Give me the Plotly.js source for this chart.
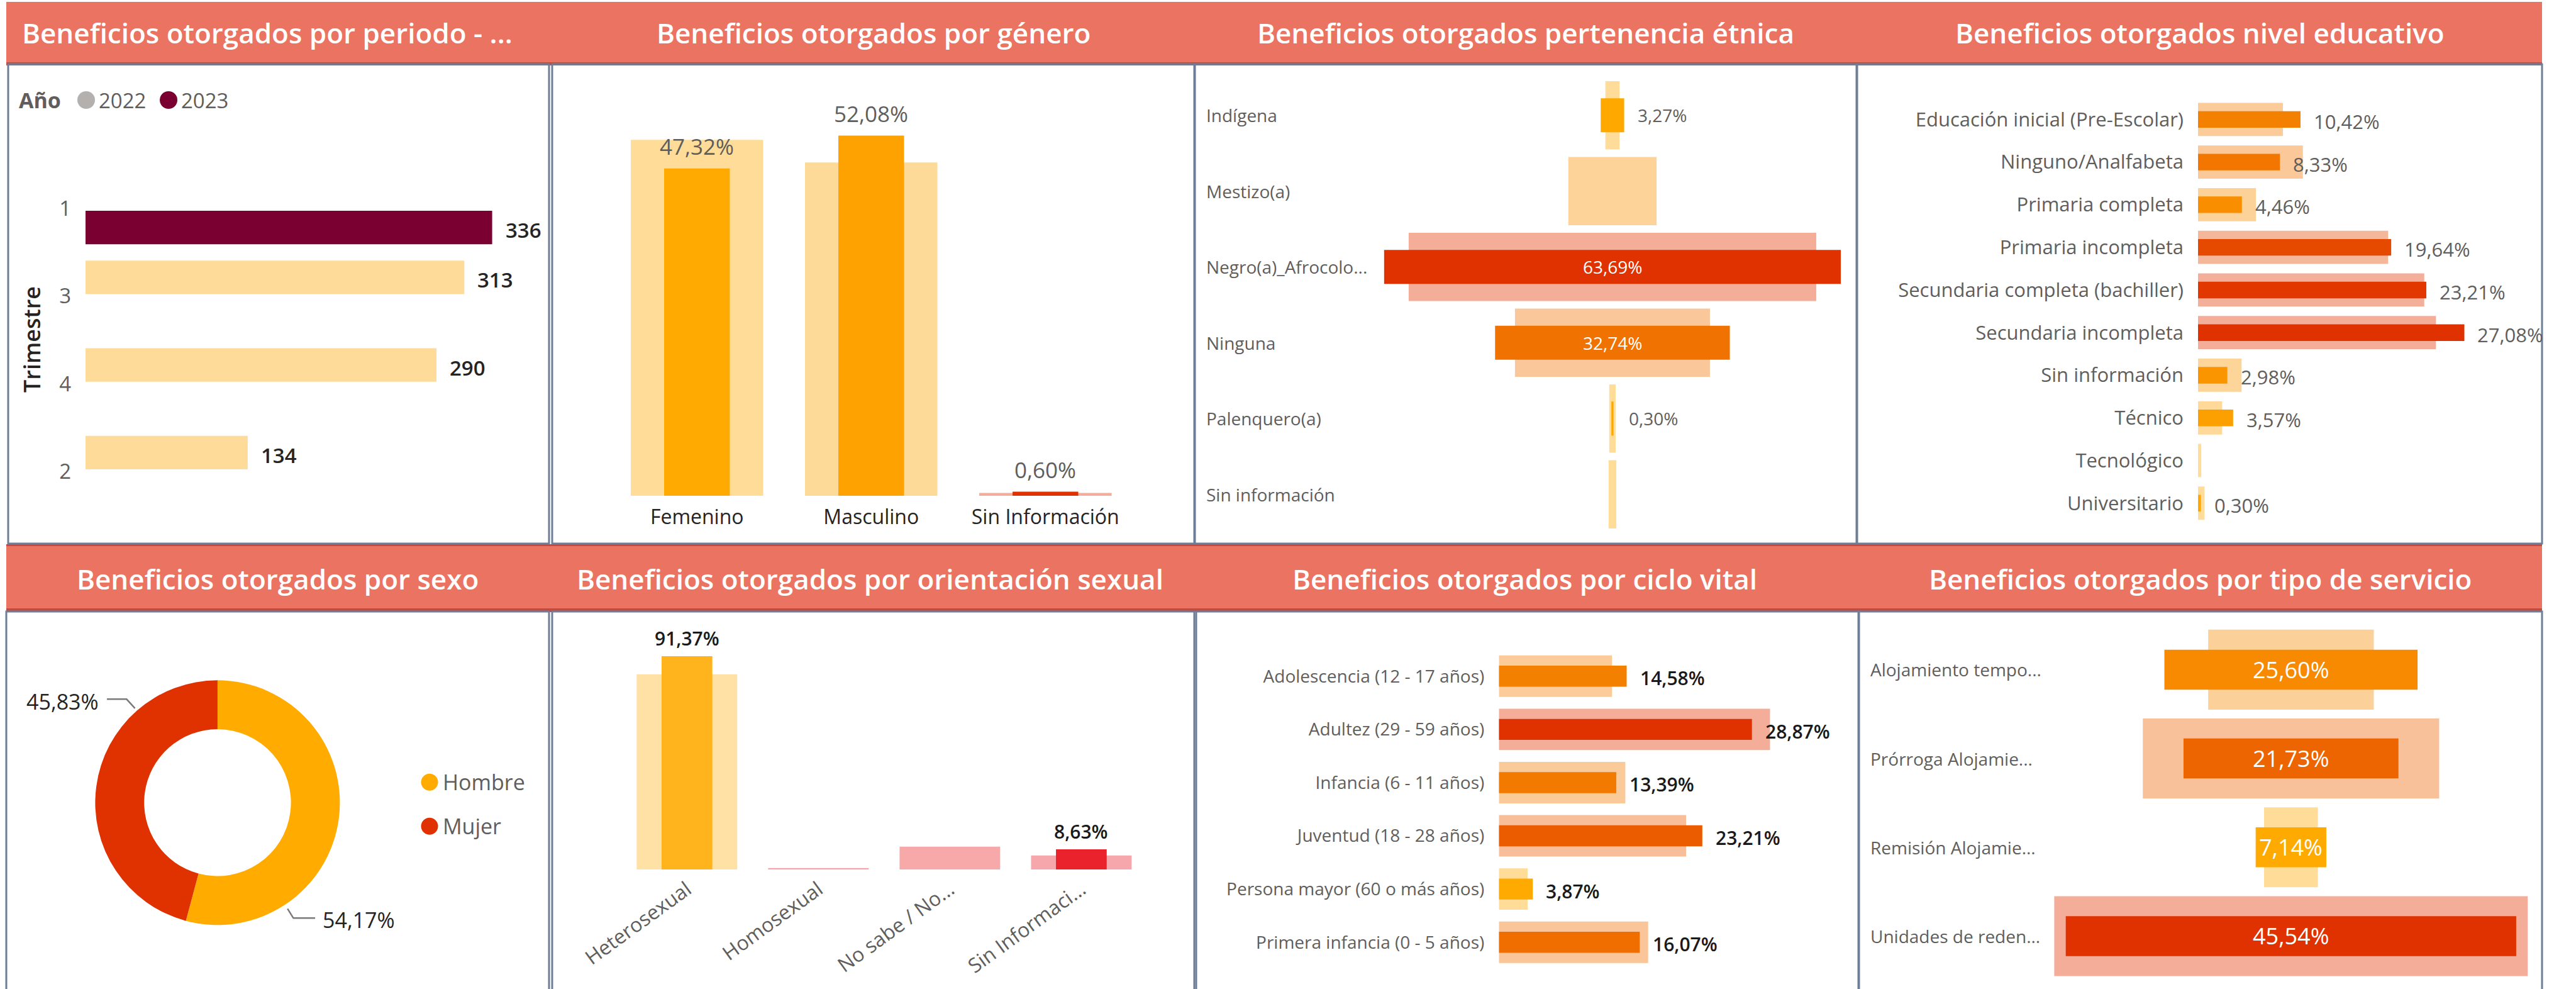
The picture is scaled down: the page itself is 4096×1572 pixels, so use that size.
<!DOCTYPE html>
<html><head><meta charset="utf-8">
<script src="https://cdn.plot.ly/plotly-3.0.1.min.js"></script>
<style>html,body{margin:0;padding:0;background:#fff;overflow:hidden}#chart{width:4096px;height:1572px}</style>
</head><body><div id="chart"></div>
<script>
// ---------------- DATA ----------------
const periodCats = ['1', '3', '4', '2'];
const period2022 = [null, 313, 290, 134];
const period2023 = [336, null, null, null];
const yearNames = ['2022', '2023'];

const generoCats = ['Femenino', 'Masculino', 'Sin Información'];
const generoActual = [47.32, 52.08, 0.60];
const generoPrevio = [51.46, 48.18, 0.40];

const etniaCats = ['Indígena', 'Mestizo(a)', 'Negro(a)_Afrocolo...', 'Ninguna', 'Palenquero(a)', 'Sin información'];
const etniaActual = [3.27, null, 63.69, 32.74, 0.30, null];
const etniaPrevio = [1.98, 12.31, 56.84, 27.19, 0.90, 1.08];

const eduCats = ['Educación inicial (Pre-Escolar)', 'Ninguno/Analfabeta', 'Primaria completa', 'Primaria incompleta',
  'Secundaria completa (bachiller)', 'Secundaria incompleta', 'Sin información', 'Técnico', 'Tecnológico', 'Universitario'];
const eduActual = [10.42, 8.33, 4.46, 19.64, 23.21, 27.08, 2.98, 3.57, null, 0.30];
const eduPrevio = [8.63, 10.66, 5.89, 19.33, 23.00, 24.19, 4.43, 2.45, 0.33, 0.66];

const sexoCats = ['Hombre', 'Mujer'];
const sexoVals = [54.17, 45.83];

const orientCats = ['Heterosexual', 'Homosexual', 'No sabe / No...', 'Sin Informaci...'];
const orientActual = [91.37, null, null, 8.63];
const orientPrevio = [83.6, 0.6, 9.8, 6.0];

const cicloCats = ['Adolescencia (12 - 17 años)', 'Adultez (29 - 59 años)', 'Infancia (6 - 11 años)',
  'Juventud (18 - 28 años)', 'Persona mayor (60 o más años)', 'Primera infancia (0 - 5 años)'];
const cicloActual = [14.58, 28.87, 13.39, 23.21, 3.87, 16.07];
const cicloPrevio = [12.91, 30.93, 14.43, 21.36, 3.29, 17.03];

const servCats = ['Alojamiento tempo...', 'Prórroga Alojamie...', 'Remisión Alojamie...', 'Unidades de reden...'];
const servActual = [25.60, 21.73, 7.14, 45.54];
const servPrevio = [16.74, 29.96, 5.44, 47.87];

const titles = ['Beneficios otorgados por periodo - ...', 'Beneficios otorgados por género',
  'Beneficios otorgados pertenencia étnica', 'Beneficios otorgados nivel educativo',
  'Beneficios otorgados por sexo', 'Beneficios otorgados por orientación sexual',
  'Beneficios otorgados por ciclo vital', 'Beneficios otorgados por tipo de servicio'];

// ---------------- HELPERS ----------------
const W = 4096, H = 1572;
const px = x => x / W;
const py = y => 1 - y / H;
const fmt = v => v.toFixed(2).replace('.', ',') + '%';
const hex2rgb = h => [1, 3, 5].map(i => parseInt(h.slice(i, i + 2), 16));
const mix = (a, b, t) => a.map((v, i) => Math.round(v + (b[i] - v) * t));
const css = c => 'rgb(' + c.join(',') + ')';
function gradient(ref, low, high) {
  const mn = Math.min(...ref), mx = Math.max(...ref);
  return ref.map(v => mix(hex2rgb(low), hex2rgb(high), (v - mn) / (mx - mn)));
}
const darkCols = g => g.map(css);
const lightCols = g => g.map(c => css(mix(c, [255, 255, 255], 0.6)));

const FONT = '"Open Sans", sans-serif';
const GRAY = '#605E5C', DARK = '#252423';
const YEL = '#FFAA00', RED = '#E03200';

// ---------------- TRACES ----------------
const traces = [];
// P1 periodo
traces.push({type: 'bar', orientation: 'h', y: periodCats, x: period2022, name: yearNames[0], xaxis: 'x', yaxis: 'y',
  width: 0.3825, offset: -0.4065, marker: {color: '#FEDB98'}, hoverinfo: 'skip'});
traces.push({type: 'bar', orientation: 'h', y: periodCats, x: period2023, name: yearNames[1], xaxis: 'x', yaxis: 'y',
  width: 0.3825, offset: 0.024, marker: {color: '#7B0032'}, hoverinfo: 'skip'});

// P2 genero
const gGen = gradient(generoPrevio, RED, YEL);
traces.push({type: 'bar', x: generoCats, y: generoPrevio, xaxis: 'x2', yaxis: 'y2', width: 0.76, marker: {color: lightCols(gGen)}, hoverinfo: 'skip'});
traces.push({type: 'bar', x: generoCats, y: generoActual, xaxis: 'x2', yaxis: 'y2', width: 0.377, marker: {color: darkCols(gGen)}, hoverinfo: 'skip'});

// P3 etnia (centered)
const gEt = gradient(etniaPrevio, YEL, RED);
traces.push({type: 'bar', orientation: 'h', y: etniaCats, x: etniaPrevio, base: etniaPrevio.map(v => -v / 2), xaxis: 'x3', yaxis: 'y3',
  width: 0.9, marker: {color: lightCols(gEt)}, hoverinfo: 'skip'});
traces.push({type: 'bar', orientation: 'h', y: etniaCats, x: etniaActual, base: etniaActual.map(v => v == null ? null : -v / 2), xaxis: 'x3', yaxis: 'y3',
  width: 0.45, marker: {color: darkCols(gEt)}, hoverinfo: 'skip'});

// P4 educacion
const gEd = gradient(eduPrevio, YEL, RED);
traces.push({type: 'bar', orientation: 'h', y: eduCats, x: eduPrevio, xaxis: 'x4', yaxis: 'y4', width: 0.78, marker: {color: lightCols(gEd)}, hoverinfo: 'skip'});
traces.push({type: 'bar', orientation: 'h', y: eduCats, x: eduActual, xaxis: 'x4', yaxis: 'y4', width: 0.39, marker: {color: darkCols(gEd)}, hoverinfo: 'skip'});

// P5 sexo (donut)
const pieCx = 345.9, pieCy = 1275.8, pieR = 194.5;
traces.push({type: 'pie', labels: sexoCats, values: sexoVals, hole: 0.6, sort: false, direction: 'clockwise', rotation: 0,
  textinfo: 'none', hoverinfo: 'skip', showlegend: false, marker: {colors: ['#FFAB00', '#E03100']},
  domain: {x: [px(pieCx - pieR), px(pieCx + pieR)], y: [py(pieCy + pieR), py(pieCy - pieR)]}});

// P6 orientacion
const gOr = gradient(orientPrevio, '#E8182D', '#FFB41D');
traces.push({type: 'bar', x: orientCats, y: orientPrevio, xaxis: 'x5', yaxis: 'y5', width: 0.765, marker: {color: lightCols(gOr)}, hoverinfo: 'skip'});
traces.push({type: 'bar', x: orientCats, y: orientActual, xaxis: 'x5', yaxis: 'y5', width: 0.386, marker: {color: darkCols(gOr)}, hoverinfo: 'skip'});

// P7 ciclo vital
const gCi = gradient(cicloPrevio, YEL, RED);
traces.push({type: 'bar', orientation: 'h', y: cicloCats, x: cicloPrevio, xaxis: 'x6', yaxis: 'y6', width: 0.78, marker: {color: lightCols(gCi)}, hoverinfo: 'skip'});
traces.push({type: 'bar', orientation: 'h', y: cicloCats, x: cicloActual, xaxis: 'x6', yaxis: 'y6', width: 0.395, marker: {color: darkCols(gCi)}, hoverinfo: 'skip'});

// P8 servicio (centered)
const gSe = gradient(servPrevio, YEL, RED);
traces.push({type: 'bar', orientation: 'h', y: servCats, x: servPrevio, base: servPrevio.map(v => -v / 2), xaxis: 'x7', yaxis: 'y7',
  width: 0.9, marker: {color: lightCols(gSe)}, hoverinfo: 'skip'});
traces.push({type: 'bar', orientation: 'h', y: servCats, x: servActual, base: servActual.map(v => -v / 2), xaxis: 'x7', yaxis: 'y7',
  width: 0.45, marker: {color: darkCols(gSe)}, hoverinfo: 'skip'});

// ---------------- AXES ----------------
const base = {showgrid: false, zeroline: false, showline: false, showticklabels: false, fixedrange: true, ticks: ''};
const ax = (o) => Object.assign({}, base, o);
const layout = {
  width: W, height: H, margin: {l: 0, r: 0, t: 0, b: 0}, paper_bgcolor: '#fff', plot_bgcolor: 'rgba(0,0,0,0)',
  font: {family: FONT, color: GRAY}, barmode: 'overlay', showlegend: false,
  xaxis: ax({domain: [px(136), px(873)], range: [0, 383], anchor: 'y'}),
  yaxis: ax({domain: [py(819), py(262)], type: 'category', range: [3.5, -0.5], anchor: 'x', showticklabels: true,
    tickfont: {size: 33, color: GRAY}, ticklabelstandoff: 22}),
  xaxis2: ax({domain: [px(969.7), px(1800.8)], type: 'category', range: [-0.5, 2.5], anchor: 'y2', showticklabels: true,
    tickfont: {size: 32, color: DARK}, ticklabelstandoff: 12}),
  yaxis2: ax({domain: [py(788), py(150.3)], range: [0, 58], anchor: 'x2'}),
  xaxis3: ax({domain: [px(2183.9), px(2943.9)], range: [-33.33, 33.33], anchor: 'y3'}),
  yaxis3: ax({domain: [py(846), py(123)], type: 'category', range: [5.5, -0.5], anchor: 'x3'}),
  xaxis4: ax({domain: [px(3495), px(4040)], range: [0, 34.85], anchor: 'y4'}),
  yaxis4: ax({domain: [py(833.6), py(156)], type: 'category', range: [9.5, -0.5], anchor: 'x4', showticklabels: true,
    tickfont: {size: 31, color: GRAY}, ticklabelstandoff: 22}),
  xaxis5: ax({domain: [px(987.8), px(1823.9)], type: 'category', range: [-0.5, 3.5], anchor: 'y5', showticklabels: true,
    tickfont: {size: 32, color: GRAY}, tickangle: -36, ticklabelstandoff: 6}),
  yaxis5: ax({domain: [py(1382), py(1011)], range: [0, 100], anchor: 'x5'}),
  xaxis6: ax({domain: [px(2383.3), px(2940)], range: [0, 39.94], anchor: 'y6'}),
  yaxis6: ax({domain: [py(1540), py(1032.5)], type: 'category', range: [5.5, -0.5], anchor: 'x6', showticklabels: true,
    tickfont: {size: 28, color: GRAY}, ticklabelstandoff: 22}),
  xaxis7: ax({domain: [px(3243.8), px(4041.8)], range: [-25.37, 25.37], anchor: 'y7'}),
  yaxis7: ax({domain: [py(1558.6), py(993.8)], type: 'category', range: [3.5, -0.5], anchor: 'x7'})
};

// ---------------- SHAPES ----------------
const HEAD = '#EB7362', HEADLINE = '#C4493F', BORDER = '#6E7E99';
const shapes = [];
const rect = (x0, y0, x1, y1, fill, lineCol, lw, layer) => shapes.push({type: 'rect', xref: 'paper', yref: 'paper',
  x0: px(x0), x1: px(x1), y0: py(y1), y1: py(y0), fillcolor: fill || 'rgba(0,0,0,0)',
  line: {width: lw || 0, color: lineCol || 'rgba(0,0,0,0)'}, layer: layer || 'below'});
const topHeads = [[10, 876], [876, 1900], [1900, 2953], [2953, 4042]];
const botHeads = [[10, 875], [875, 1900], [1900, 2955], [2955, 4042]];
const topBox = [[13, 873], [878, 1899], [1900, 2952], [2953, 4042]];
const botBox = [[10, 873], [878, 1899], [1902, 2955], [2956, 4042]];
topBox.forEach(b => rect(b[0], 102, b[1], 864, null, BORDER, 3, 'above'));
botBox.forEach(b => rect(b[0], 972, b[1], 1576, null, BORDER, 3, 'above'));
topHeads.forEach(h => { rect(h[0], 3, h[1], 101, HEAD); rect(h[0], 99, h[1], 104, HEADLINE); });
botHeads.forEach(h => { rect(h[0], 866, h[1], 969, HEAD); rect(h[0], 967, h[1], 973, HEADLINE); rect(h[0], 865, h[1], 868, HEADLINE); });

// legend dots
const dot = (cx, cy, d, col) => shapes.push({type: 'circle', xref: 'paper', yref: 'paper', xsizemode: 'pixel', ysizemode: 'pixel',
  xanchor: px(cx), yanchor: py(cy), x0: -d / 2, x1: d / 2, y0: -d / 2, y1: d / 2, fillcolor: col, line: {width: 0}, layer: 'above'});
dot(137, 159, 28, '#B3B0AD');
dot(268, 159, 28, '#7B0032');
dot(683, 1243.3, 27, '#FFAB00');
dot(683, 1313.3, 27, '#E03100');

// donut leader lines
const path = pts => shapes.push({type: 'path', xref: 'paper', yref: 'paper', layer: 'above',
  path: pts.map((p, i) => (i ? 'L' : 'M') + px(p[0]) + ',' + py(p[1])).join(' '), line: {color: '#7A7A7A', width: 2.5}});
path([[170, 1111.3], [201.3, 1111.3], [214.6, 1125.8]]);
path([[501.1, 1459.3], [466.5, 1459.3], [457.2, 1444.3]]);

// ---------------- ANNOTATIONS ----------------
const ann = [];
const A = o => ann.push(Object.assign({showarrow: false, xanchor: 'center', yanchor: 'middle'}, o));
const titlePos = [[33.4, 52.5, 'left'], [1388.5, 52.5], [2426, 52.5], [3497.5, 52.5], [441.5, 920], [1383, 920], [2424, 920], [3498, 920]];
titles.forEach((t, i) => A({text: t, xref: 'paper', yref: 'paper', x: px(titlePos[i][0]), y: py(titlePos[i][1]),
  xanchor: titlePos[i][2] || 'center', font: {size: 44, color: '#fff', weight: 600}}));

// P1 legend + labels (category positions given by index: numeric-looking names)
A({text: 'Año', xref: 'paper', yref: 'paper', x: px(28), y: py(159), xanchor: 'left', font: {size: 34, color: GRAY, weight: 700}});
A({text: yearNames[0], xref: 'paper', yref: 'paper', x: px(155), y: py(159), xanchor: 'left', font: {size: 33, color: GRAY}});
A({text: yearNames[1], xref: 'paper', yref: 'paper', x: px(286), y: py(159), xanchor: 'left', font: {size: 33, color: GRAY}});
A({text: 'Trimestre', xref: 'paper', yref: 'paper', x: px(50), y: py(540), textangle: -90, font: {size: 36, color: DARK, weight: 600}});
periodCats.forEach((c, i) => {
  if (period2022[i] != null) A({text: String(period2022[i]), xref: 'x', yref: 'y', x: period2022[i], y: i, xanchor: 'left', xshift: 19, yshift: 26, font: {size: 33, color: DARK, weight: 600}});
  if (period2023[i] != null) A({text: String(period2023[i]), xref: 'x', yref: 'y', x: period2023[i], y: i, xanchor: 'left', xshift: 19, yshift: -34, font: {size: 33, color: DARK, weight: 600}});
});

// P2 labels
generoCats.forEach((c, i) => {
  if (generoActual[i] != null) A({text: fmt(generoActual[i]), xref: 'x2', yref: 'y2', x: c, y: generoActual[i], yshift: 35, font: {size: 35, color: GRAY}});
});

// P3 labels
etniaCats.forEach((c, i) => {
  A({text: c, xref: 'paper', yref: 'y3', x: px(1916), y: c, xanchor: 'left', font: {size: 28, color: GRAY}});
  const v = etniaActual[i];
  if (v == null) return;
  if (v > 20) A({text: fmt(v), xref: 'x3', yref: 'y3', x: 0, y: c, font: {size: 28, color: '#fff'}});
  else A({text: fmt(v), xref: 'x3', yref: 'y3', x: Math.max(v, etniaPrevio[i]) / 2, y: c, xanchor: 'left', xshift: 19, font: {size: 28, color: GRAY}});
});

// P4 labels
eduCats.forEach((c, i) => {
  const v = eduActual[i];
  if (v != null) A({text: fmt(v), xref: 'x4', yref: 'y4', x: v, y: c, xanchor: 'left', xshift: 19, yshift: -3, font: {size: 31, color: GRAY}});
});

// P5 labels + legend
A({text: fmt(sexoVals[1]), xref: 'paper', yref: 'paper', x: px(159), y: py(1114.6), xanchor: 'right', font: {size: 34, color: DARK}});
A({text: fmt(sexoVals[0]), xref: 'paper', yref: 'paper', x: px(511), y: py(1462), xanchor: 'left', font: {size: 34, color: DARK}});
sexoCats.forEach((c, i) => A({text: c, xref: 'paper', yref: 'paper', x: px(702), y: py(1243.3 + 70 * i), xanchor: 'left', font: {size: 34, color: GRAY}}));

// P6 labels
orientCats.forEach((c, i) => {
  const v = orientActual[i];
  if (v != null) A({text: fmt(v), xref: 'x5', yref: 'y5', x: c, y: v, yanchor: 'bottom', yshift: 6, font: {size: 30, color: '#1a1a1a', weight: 600}});
});

// P7 labels
cicloCats.forEach((c, i) => {
  const v = cicloActual[i];
  A({text: fmt(v), xref: 'x6', yref: 'y6', x: v, y: c, xanchor: 'left', xshift: 19, yshift: -3, font: {size: 30, color: '#1a1a1a', weight: 600}});
});

// P8 labels
servCats.forEach((c, i) => {
  A({text: c, xref: 'paper', yref: 'y7', x: px(2972), y: c, xanchor: 'left', font: {size: 28, color: GRAY}});
  A({text: fmt(servActual[i]), xref: 'x7', yref: 'y7', x: 0, y: c, font: {size: 36, color: '#fff'}});
});

layout.shapes = shapes;
layout.annotations = ann;

Plotly.newPlot('chart', traces, layout, {staticPlot: true, displayModeBar: false});
</script></body></html>
